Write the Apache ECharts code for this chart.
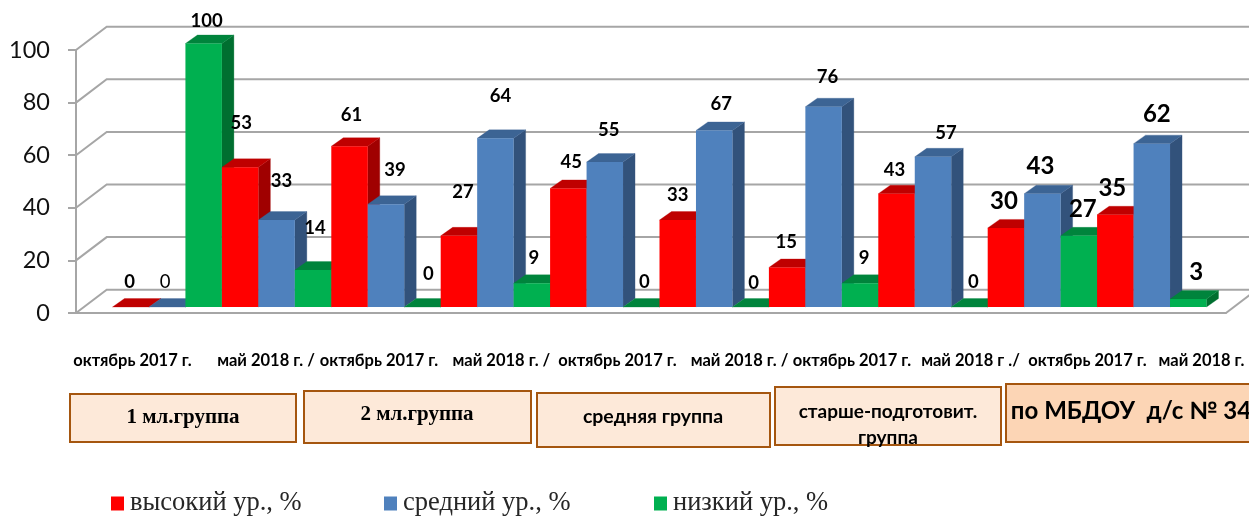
<!DOCTYPE html>
<html><head><meta charset="utf-8">
<style>html,body{margin:0;padding:0;background:#fff}#c{width:1249px;height:518px}</style>
<script src="https://cdn.jsdelivr.net/npm/echarts@6/dist/echarts.min.js"></script>
</head><body><div id="c"></div>
<script>
const categories = ['октябрь 2017 г.','май 2018 г. /','октябрь 2017 г.','май 2018 г. /','октябрь 2017 г.','май 2018 г. /','октябрь 2017 г.','май 2018 г ./','октябрь 2017 г.','май 2018 г.'];
const high = [0,53,61,27,45,33,15,43,30,35];
const mid  = [0,33,39,64,55,67,76,57,43,62];
const low  = [100,14,0,9,0,0,9,0,27,3];
const yTicks = [0,20,40,60,80,100];
const groupNames = ['1 мл.группа','2 мл.группа','средняя группа','старше-подготовит.','группа','по МБДОУ  д/с № 34'];

// label nudges relative to the bar's top, front face centre
const highNudgeX = [-1,1,2,4,3,0,-1,-2,-2,-3];
const highNudgeY = [-25,-44,-31,-44,-26,-25,-25,-24,-27,-27];
const midNudgeX  = [-2,5,9,5,4,7,4,13,-2,5];
const midNudgeY  = [-25,-39,-34,-42,-32,-26,-30,-24,-27,-29];
const lowNudgeX  = [3,2,6,2,3,3,4,4,4,8];
const lowNudgeY  = [-22,-42,-33,-25,-25,-24,-25,-25,-27,-27];
const catLabelCentreShift = [-34.7,-10.6,-7,6,12.7,25.3,28.4,37.5,45.1,49.7];

const SANS = 'Lato, "Open Sans", "Noto Sans", sans-serif';
const SERIF = '"Liberation Serif", serif';
const DX = 12, DY = -8.5;      // bar depth
const WX = 30.7, WY = -23.3;   // wall depth
const GREY = '#a6a6a6';

function barSeries(name, values, sIdx, colors, nx, ny) {
  return {
    name, type:'custom', coordinateSystem:'cartesian2d', xAxisIndex:1, yAxisIndex:1,
    itemStyle:{color:colors[0]},
    data: values.map((v,i)=>[i,v]),
    encode:{x:0,y:1},
    renderItem(params, api) {
      const c = api.value(0), v = api.value(1);
      const band = api.size([1,0])[0];
      const w = band/3;
      const p0 = api.coord([c,0]);
      const pv = api.coord([c,v]);
      const x = p0[0]-band/2 + sIdx*w;
      const yb = p0[1], yt = pv[1];
      const z = c*3+sIdx+1;
      const poly = (points,fill)=>({type:'polygon',z2:z,shape:{points},style:{fill,stroke:fill,lineWidth:0.3}});
      const big = c >= 8;
      const light = (c===0 && sIdx===1);
      return {type:'group',children:[
        poly([[x+w,yb],[x+w+DX,yb+DY],[x+w+DX,yt+DY],[x+w,yt]],colors[2]),
        poly([[x,yt],[x+DX,yt+DY],[x+w+DX,yt+DY],[x+w,yt]],colors[1]),
        {type:'rect',z2:z,shape:{x,y:yt,width:w,height:yb-yt},style:{fill:colors[0]}},
        {type:'text',z2:100,style:{text:String(v),x:x+w/2+nx[c],y:yt+ny[c],
          align:'center',verticalAlign:'middle',textAlign:'center',textVerticalAlign:'middle',
          fill:'#000',font:(light?'400 ':'700 ')+(big?'24px ':'18.5px ')+SANS}}
      ]};
    }
  };
}

const gridSeries = {
  type:'custom', coordinateSystem:'cartesian2d', xAxisIndex:0, yAxisIndex:0, silent:true, z:1,
  data: yTicks.map(t=>[0,t]),
  encode:{x:0,y:1},
  renderItem(params, api) {
    const t = api.value(1);
    const a = api.coord([0,t]);
    const end = api.coord([1,t]);
    const line = pts=>({type:'polyline',z2:0,shape:{points:pts},style:{stroke:GREY,lineWidth:2,fill:'none'}});
    const kids = [line([a,[a[0]+WX,a[1]+WY],[1260,a[1]+WY]])];
    if (t===0) kids.push(line([end,[end[0]+WX,end[1]+WY]]));
    return {type:'group',children:kids};
  }
};

const catLabelSeries = {
  type:'custom', coordinateSystem:'cartesian2d', xAxisIndex:1, yAxisIndex:1, silent:true,
  data: categories.map((n,i)=>[i,0,n]),
  encode:{x:0,y:1},
  renderItem(params, api) {
    const i = api.value(0);
    const p = api.coord([i,0]);
    return {type:'text',z2:100,style:{text:categories[i],x:p[0]+catLabelCentreShift[i],y:p[1]+54,
      align:'center',verticalAlign:'middle',textAlign:'center',textVerticalAlign:'middle',
      fill:'#000',font:'700 16.5px '+SANS}};
  }
};

function box(x,y,w,h,fill){return {type:'rect',z:5,shape:{x,y,width:w,height:h},style:{fill,stroke:'#a5560f',lineWidth:2}};}
function label(text,x,y,font){return {type:'text',z:6,style:{text,x,y,align:'center',verticalAlign:'middle',textAlign:'center',textVerticalAlign:'middle',fill:'#000',font}};}
function legend(name,left){return {data:[name],left,top:490,itemWidth:13,itemHeight:14,icon:'rect',selectedMode:false,padding:0,itemGap:0,
  textStyle:{fontFamily:SERIF,fontSize:26.5,color:'#262626',padding:[1,0,0,1]}};}

const chart = echarts.init(document.getElementById('c'),null,{renderer:'canvas'});
chart.setOption({
  animation:false,
  backgroundColor:'#fff',
  grid:[
    {left:76,top:50,width:1150,height:263},
    {left:112.5,top:43.5,width:1094,height:263.5}
  ],
  xAxis:[
    {gridIndex:0,type:'value',min:0,max:1,axisLabel:{show:false},axisTick:{show:false},splitLine:{show:false},
     axisLine:{show:true,onZero:false,lineStyle:{color:GREY,width:2}}},
    {gridIndex:1,type:'category',data:categories,show:false,boundaryGap:true}
  ],
  yAxis:[
    {gridIndex:0,type:'value',min:0,max:100,interval:20,splitLine:{show:false},
     axisLine:{show:true,lineStyle:{color:GREY,width:2}},
     axisTick:{show:true,length:8,lineStyle:{color:GREY,width:2}},
     axisLabel:{margin:26,color:'#111',fontFamily:SANS,fontSize:23.5}},
    {gridIndex:1,type:'value',min:0,max:100,show:false}
  ],
  legend:[legend('высокий ур., %',111),legend('средний ур., %',384),legend('низкий ур., %',654)],
  series:[
    gridSeries,
    barSeries('высокий ур., %',high,0,['#ff0000','#bf0000','#a00000'],highNudgeX,highNudgeY),
    barSeries('средний ур., %',mid,1,['#4f81bd','#3c6494','#32527b'],midNudgeX,midNudgeY),
    barSeries('низкий ур., %',low,2,['#00b050','#00843c','#006f30'],lowNudgeX,lowNudgeY),
    catLabelSeries
  ],
  graphic:[
    box(70,394,226,48,'#fde9d9'),
    box(304,391,227,52,'#fde9d9'),
    box(537,393,233,54,'#fde9d9'),
    box(775,387,226,58,'#fde9d9'),
    box(1006,384,250,58,'#fcd5b5'),
    label(groupNames[0],183,418,'700 21px '+SERIF),
    label(groupNames[1],417,415,'700 21px '+SERIF),
    label(groupNames[2],653,417,'700 19.5px '+SANS),
    label(groupNames[3],888,412,'700 19px '+SANS),
    label(groupNames[4],888,438,'700 19px '+SANS),
    label(groupNames[5],1131,411,'700 24px '+SANS)
  ]
});
</script></body></html>
